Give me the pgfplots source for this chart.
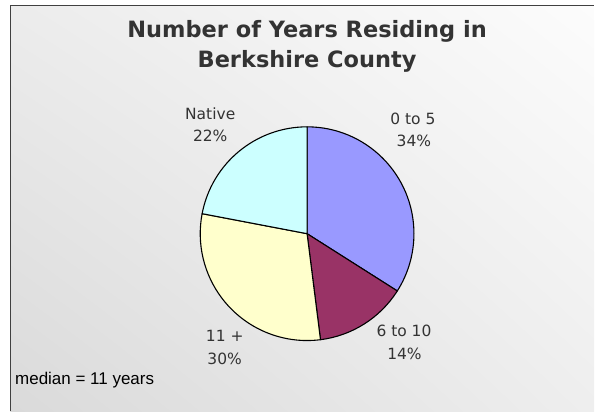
\documentclass[border=0pt]{standalone}
\usepackage{pgfplots}
\usepackage{pgfplotstable}
\pgfplotsset{compat=1.18}
\usetikzlibrary{shadings}
\usepackage{fontspec}
\setmainfont{DejaVu Sans}
\newfontfamily\arialfont{Liberation Sans}
\definecolor{c1}{HTML}{9999FF}
\definecolor{c2}{HTML}{993366}
\definecolor{c3}{HTML}{FFFFCC}
\definecolor{c4}{HTML}{CCFFFF}
\definecolor{txt}{HTML}{333333}
\definecolor{frame}{HTML}{404040}
\definecolor{bgUL}{HTML}{ECECEC}
\definecolor{bgUR}{HTML}{FCFCFC}
\definecolor{bgLL}{HTML}{DADADA}
\definecolor{bgLR}{HTML}{EEEEEE}
\pgfplotstableread{
pct col
34 c1
14 c2
30 c3
22 c4
}\piedata
\newcommand{\labfont}{\fontsize{15.5}{22}\selectfont}
\newcommand{\titfont}{\fontsize{22.5}{30}\selectfont\bfseries}
\begin{document}
\begin{tikzpicture}
\begin{axis}[scale only axis, width=595pt, height=412pt,
  xmin=0, xmax=595, ymin=0, ymax=412, hide axis, clip=false]
\pgfplotsextra{
  \fill[white] (axis cs:0,0) rectangle (axis cs:595,412);
  \shade[upper left=bgUL, upper right=bgUR, lower left=bgLL, lower right=bgLR]
     (axis cs:10.5,0) rectangle (axis cs:595,406.5);
  \draw[line width=1.6pt, frame] (axis cs:10.5,0) -- (axis cs:10.5,406.5) -- (axis cs:595,406.5);
  % pie slices from table
  \pgfplotstablegetrowsof{\piedata}
  \pgfmathtruncatemacro{\nrows}{\pgfplotsretval-1}
  \xdef\startang{90}
  \foreach \i in {0,...,\nrows}{
    \pgfplotstablegetelem{\i}{pct}\of{\piedata}\let\sliceval\pgfplotsretval
    \pgfplotstablegetelem{\i}{col}\of{\piedata}\let\slicecol\pgfplotsretval
    \pgfmathsetmacro{\endang}{\startang-3.6*\sliceval}
    \filldraw[fill=\slicecol, draw=black, line width=1.1pt, line join=round]
      (axis cs:307.5,178) -- ++(\startang:107pt)
      arc[start angle=\startang, end angle=\endang, radius=107pt] -- cycle;
    \xdef\startang{\endang}
  }
  % labels
  \begin{scope}[every node/.style={inner sep=0pt, anchor=base, text=txt, font=\labfont}]
    \node at (axis cs:413.5,287) {0 to 5};
    \node at (axis cs:414.5,265.5) {34\%};
    \node at (axis cs:210.5,292) {Native};
    \node at (axis cs:210.5,270) {22\%};
    \node at (axis cs:404.5,75) {6 to 10};
    \node at (axis cs:405,52) {14\%};
    \node at (axis cs:225,70) {11 +};
    \node at (axis cs:225,47) {30\%};
  \end{scope}
  \node[inner sep=0pt, anchor=base, text=txt, font=\titfont] at (axis cs:307.5,374.7) {Number of Years Residing in};
  \node[inner sep=0pt, anchor=base, text=txt, font=\titfont] at (axis cs:307.5,344) {Berkshire County};
  \node[inner sep=0pt, anchor=base west, text=black, font=\arialfont\fontsize{17}{20}\selectfont] at (axis cs:15,27) {median = 11 years};
}
\end{axis}
\end{tikzpicture}
\end{document}
